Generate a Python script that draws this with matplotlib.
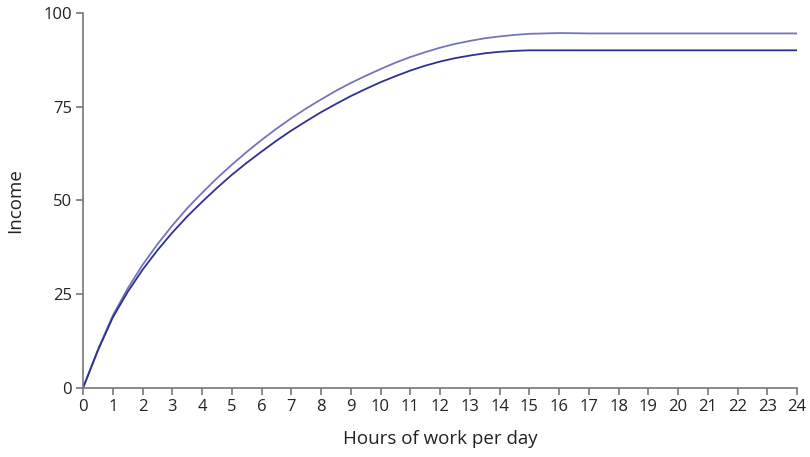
import matplotlib.pyplot as plt

plt.rcParams['font.family'] = ['Open Sans', 'DejaVu Sans']

# hours sampled every half hour while the curves bend, then hourly on the flat part
hours = [0, 0.5, 1, 1.5, 2, 2.5, 3, 3.5, 4, 4.5, 5, 5.5, 6, 6.5, 7, 7.5, 8, 8.5,
         9, 9.5, 10, 10.5, 11, 11.5, 12, 12.5, 13, 13.5, 14, 14.5, 15, 15.5, 16,
         17, 18, 19, 20, 21, 22, 23, 24]
income_high = [0, 10.2, 19.3, 26.5, 32.8, 38.3, 43.3, 47.9, 52, 55.9, 59.5, 62.9,
               66.1, 69.1, 71.9, 74.5, 76.9, 79.2, 81.3, 83.2, 85, 86.7, 88.2, 89.5,
               90.7, 91.7, 92.5, 93.2, 93.7, 94.1, 94.4, 94.5, 94.6,
               94.5, 94.5, 94.5, 94.5, 94.5, 94.5, 94.5, 94.5]
income_low = [0, 10, 18.8, 25.6, 31.5, 36.7, 41.4, 45.7, 49.6, 53.3, 56.8, 60,
              63, 65.9, 68.6, 71.1, 73.5, 75.7, 77.8, 79.7, 81.5, 83.1, 84.6, 85.9,
              87, 87.9, 88.6, 89.2, 89.6, 89.85, 90, 90, 90,
              90, 90, 90, 90, 90, 90, 90, 90]
xticks = list(range(25))
yticks = [0, 25, 50, 75, 100]

fig = plt.figure(figsize=(8.1, 4.57), dpi=100)
ax = fig.add_axes([0.1025, 0.151, 0.8815, 0.821])

ax.plot(hours, income_high, color='#7275bb', lw=1.3)
ax.plot(hours, income_low, color='#2e3192', lw=1.3)

ax.set_xlim(0, 24)
ax.set_ylim(0, 100)
ax.set_xticks(xticks)
ax.set_yticks(yticks)
for s in ['top', 'right']:
    ax.spines[s].set_visible(False)
for s in ['left', 'bottom']:
    ax.spines[s].set_color('#777777')
    ax.spines[s].set_linewidth(1.2)
ax.tick_params(direction='out', length=5, width=1.2, color='#777777',
               labelsize=12, labelcolor='#222222', pad=3)
ax.set_xlabel('Hours of work per day', fontsize=13.5, color='#222222', labelpad=11)
ax.set_ylabel('Income', fontsize=13.5, color='#222222', labelpad=14)

fig.savefig('out.png', dpi=100)
